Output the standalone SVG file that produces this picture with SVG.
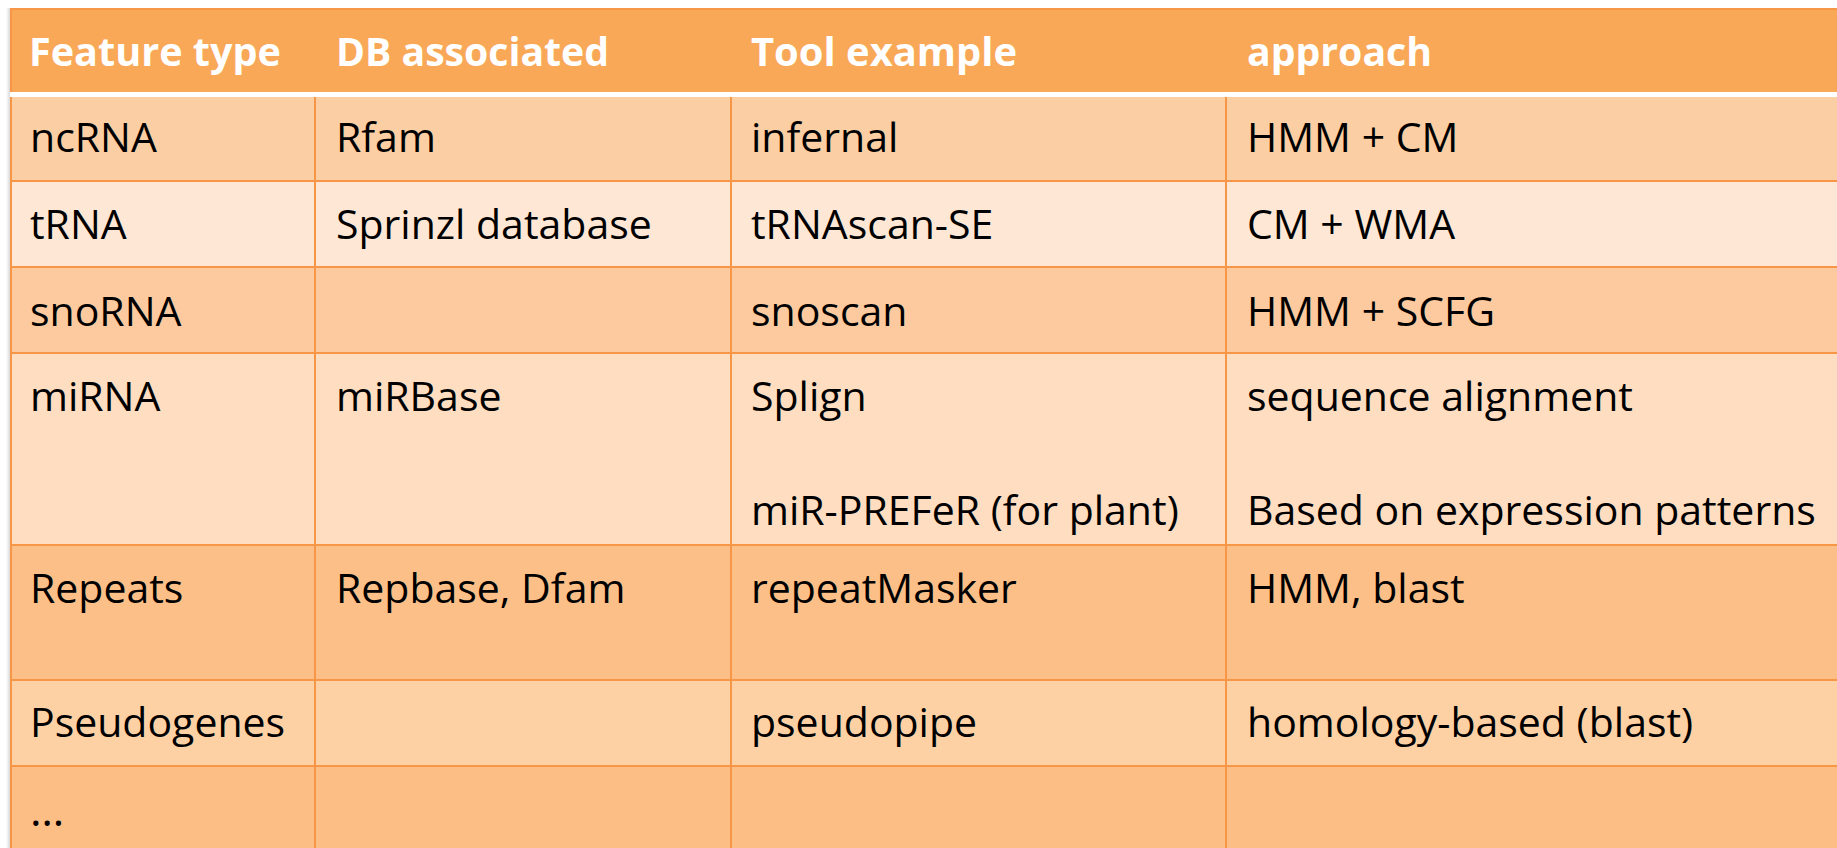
<svg xmlns="http://www.w3.org/2000/svg" width="1837" height="848" viewBox="0 0 1837 848">
<defs>
<linearGradient id="shadow" x1="0" x2="1" y1="0" y2="0">
<stop offset="0" stop-color="#ffffff"/>
<stop offset="1" stop-color="#d9d9d9"/>
</linearGradient>
<style>
.t{font-family:"Open Sans","Noto Sans","DejaVu Sans",sans-serif;font-size:41px;fill:#000}
.h{font-family:"Open Sans","Noto Sans","DejaVu Sans",sans-serif;font-size:40px;font-weight:bold;fill:#ffffff}
.grid{stroke:#F79646;stroke-width:2;fill:none}
</style>
</defs>
<rect x="0" y="0" width="1837" height="848" fill="#ffffff"/>
<rect x="6" y="8" width="4" height="840" fill="url(#shadow)"/>
<g id="backgrounds">
<rect x="10" y="8" width="1827" height="84" fill="#F9A857"/>
<rect x="10" y="8" width="1827" height="2" fill="#F79646"/>
<rect x="10" y="92" width="1827" height="5" fill="#ffffff"/>
<rect x="10" y="97" width="1827" height="84" fill="#FCCEA3"/>
<rect x="10" y="181" width="1827" height="86" fill="#FEE7D5"/>
<rect x="10" y="267" width="1827" height="86" fill="#FCCA9E"/>
<rect x="10" y="353" width="1827" height="192" fill="#FEDDC1"/>
<rect x="10" y="545" width="1827" height="135" fill="#FCBF87"/>
<rect x="10" y="680" width="1827" height="86" fill="#FED1A5"/>
<rect x="10" y="766" width="1827" height="82" fill="#FCBE85"/>
</g>
<g id="connectors" class="grid">
<line x1="11" y1="8" x2="11" y2="92"/>
<line x1="11" y1="97" x2="11" y2="848"/>
<line x1="315" y1="97" x2="315" y2="848"/>
<line x1="731" y1="97" x2="731" y2="848"/>
<line x1="1226" y1="97" x2="1226" y2="848"/>
<line x1="10" y1="181" x2="1837" y2="181"/>
<line x1="10" y1="267" x2="1837" y2="267"/>
<line x1="10" y1="353" x2="1837" y2="353"/>
<line x1="10" y1="545" x2="1837" y2="545"/>
<line x1="10" y1="680" x2="1837" y2="680"/>
<line x1="10" y1="766" x2="1837" y2="766"/>
</g>
<g id="header">
<text class="h" x="29" y="66" textLength="252" lengthAdjust="spacingAndGlyphs">Feature type</text>
<text class="h" x="336" y="66" textLength="273" lengthAdjust="spacingAndGlyphs">DB associated</text>
<text class="h" x="751" y="66" textLength="266" lengthAdjust="spacingAndGlyphs">Tool example</text>
<text class="h" x="1247" y="66" textLength="185" lengthAdjust="spacingAndGlyphs">approach</text>
</g>
<g id="row-ncRNA">
<text class="t" x="30" y="152">ncRNA</text>
<text class="t" x="336" y="152">Rfam</text>
<text class="t" x="751" y="152">infernal</text>
<text class="t" x="1247" y="152">HMM + CM</text>
</g>
<g id="row-tRNA">
<text class="t" x="30" y="239">tRNA</text>
<text class="t" x="336" y="239">Sprinzl database</text>
<text class="t" x="751" y="239">tRNAscan-SE</text>
<text class="t" x="1247" y="239">CM + WMA</text>
</g>
<g id="row-snoRNA">
<text class="t" x="30" y="326">snoRNA</text>
<text class="t" x="751" y="326">snoscan</text>
<text class="t" x="1247" y="326">HMM + SCFG</text>
</g>
<g id="row-miRNA">
<text class="t" x="30" y="411">miRNA</text>
<text class="t" x="336" y="411">miRBase</text>
<text class="t" x="751" y="411">Splign</text>
<text class="t" x="1247" y="411">sequence alignment</text>
<text class="t" x="751" y="525">miR-PREFeR (for plant)</text>
<text class="t" x="1247" y="525">Based on expression patterns</text>
</g>
<g id="row-repeats">
<text class="t" x="30" y="603">Repeats</text>
<text class="t" x="336" y="603">Repbase, Dfam</text>
<text class="t" x="751" y="603">repeatMasker</text>
<text class="t" x="1247" y="603">HMM, blast</text>
</g>
<g id="row-pseudogenes">
<text class="t" x="30" y="737">Pseudogenes</text>
<text class="t" x="751" y="737">pseudopipe</text>
<text class="t" x="1247" y="737">homology-based (blast)</text>
</g>
<g id="row-more">
<text class="t" x="30" y="826" style="font-size:44px">…</text>
</g>
</svg>
